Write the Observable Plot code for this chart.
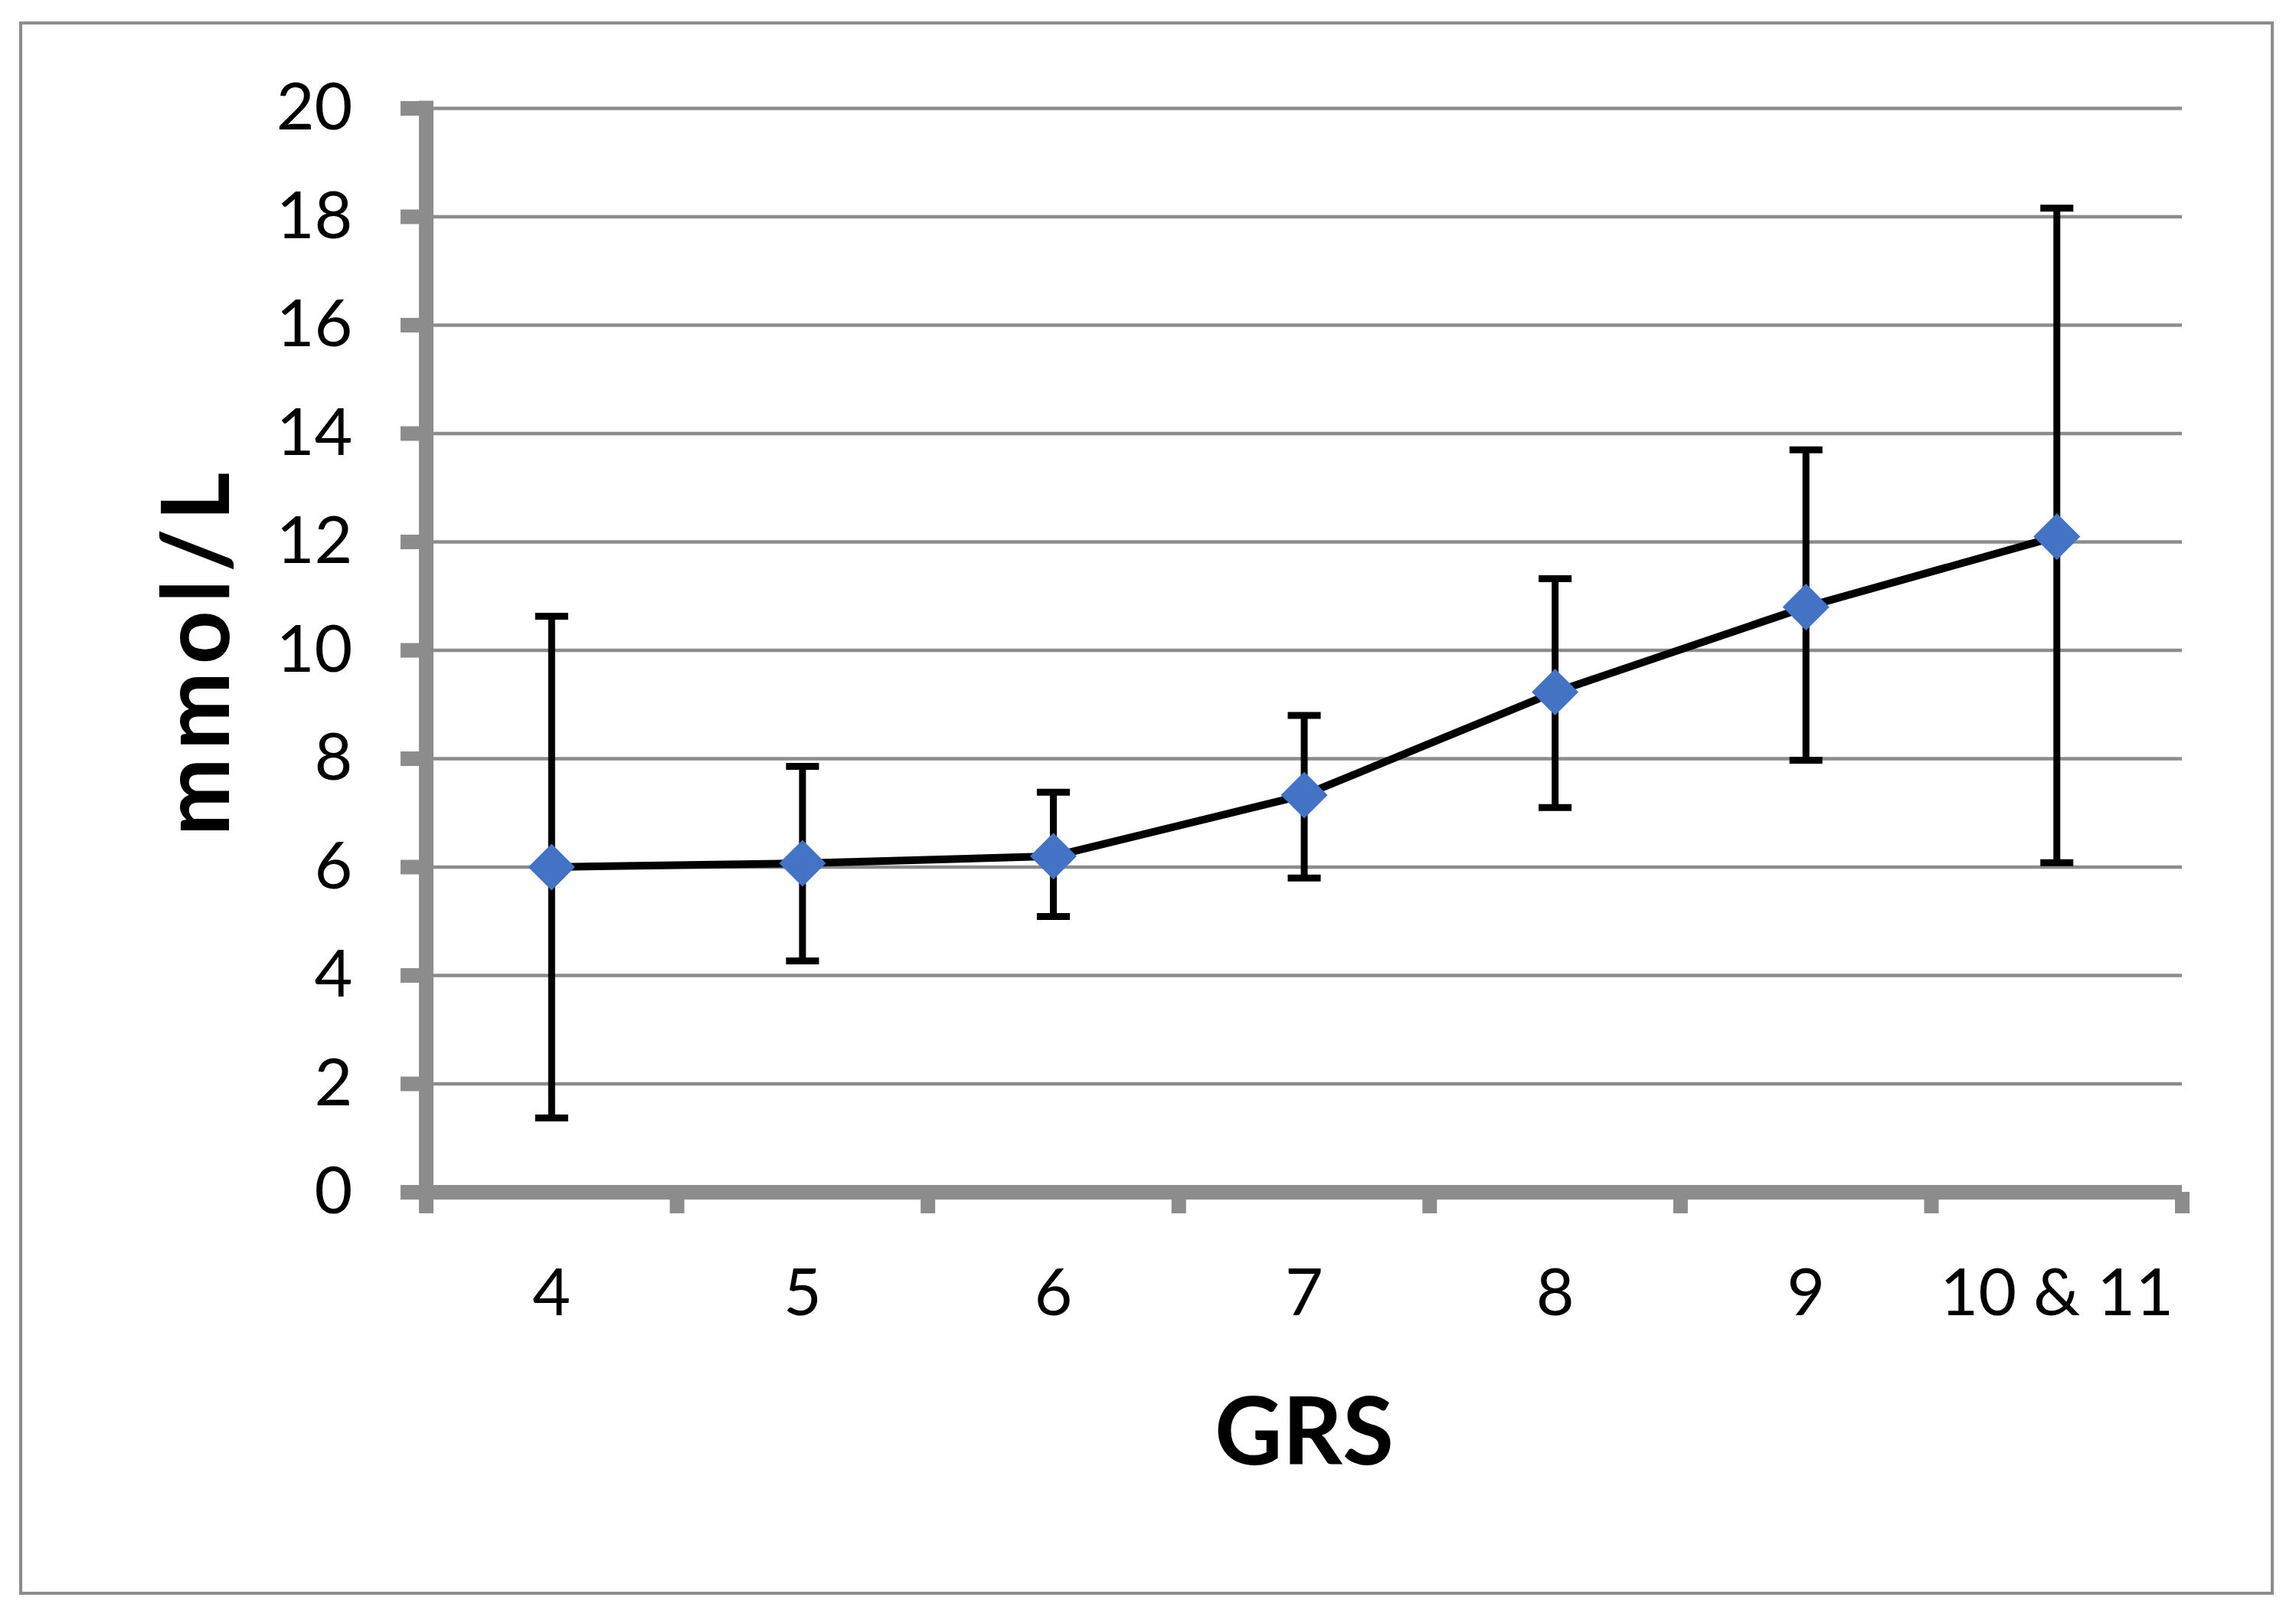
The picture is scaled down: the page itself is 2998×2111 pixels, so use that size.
<!DOCTYPE html>
<html>
<head>
<meta charset="utf-8">
<script src="https://cdn.jsdelivr.net/npm/d3@7"></script>
<script src="https://cdn.jsdelivr.net/npm/@observablehq/plot@0.6"></script>
<style>
  html, body { margin: 0; padding: 0; background: #fff; overflow: hidden; }
  #wrap { position: relative; width: 2998px; height: 2111px; }
  #border { position: absolute; left: 25px; top: 28px; width: 2944px; height: 2054px;
            box-sizing: border-box; border: 4.5px solid #8c8c8c; pointer-events: none; }
  svg { display: block; }
</style>
</head>
<body>
<div id="wrap"><div id="border"></div></div>
<script>
// Categories (GRS groups)
const grs = ["4", "5", "6", "7", "8", "9", "10 & 11"];
// Mean values (mmol/L)
const meanValues = [6.0, 6.07, 6.2, 7.33, 9.23, 10.8, 12.1];
// Error bar ends
const lowerValues = [1.37, 4.27, 5.09, 5.80, 7.10, 7.97, 6.08];
const upperValues = [10.63, 7.86, 7.38, 8.80, 11.32, 13.70, 18.16];
// Y tick labels
const yTicks = [0, 2, 4, 6, 8, 10, 12, 14, 16, 18, 20];

const data = grs.map((g, i) => ({i, g, mean: meanValues[i], lo: lowerValues[i], hi: upperValues[i]}));
const idx = grs.map((g, i) => i);
const bounds = d3.range(grs.length + 1).map(i => i - 0.5);

const gray = "#8c8c8c";
const capSymbol = {
  draw(ctx, size) {
    const w = Math.sqrt(size);
    ctx.moveTo(-w / 2, 0);
    ctx.lineTo(w / 2, 0);
  }
};

const chart = Plot.plot({
  width: 2998,
  height: 2111,
  marginLeft: 556,
  marginRight: 149,
  marginTop: 141,
  marginBottom: 555,
  style: {fontFamily: "Lato, 'Open Sans', sans-serif", fontSize: "86px", color: "black", background: "transparent"},
  x: {domain: [-0.5, grs.length - 0.5], label: null},
  y: {domain: [0, 20], label: null},
  marks: [
    Plot.gridY(yTicks.filter(d => d > 0), {stroke: gray, strokeOpacity: 1, strokeWidth: 4.5}),
    Plot.ruleY([0], {stroke: gray, strokeWidth: 19}),
    Plot.ruleX([-0.5], {stroke: gray, strokeWidth: 19, strokeLinecap: "square"}),
    Plot.axisY(yTicks, {tickSize: 33, tickPadding: 63, stroke: gray, strokeWidth: 19, fontSize: 86, fill: "black", tickFormat: d => String(d), label: null}),
    Plot.axisX(bounds, {tickSize: 28, tickPadding: 0, stroke: gray, strokeWidth: 19, tickFormat: () => "", label: null}),
    Plot.axisX(idx, {tickSize: 0, tickPadding: 99, tickFormat: i => grs[i], fontSize: 86, fill: "black", label: null}),
    Plot.ruleX(data, {x: "i", y1: "lo", y2: "hi", stroke: "black", strokeWidth: 9}),
    Plot.dot(data, {x: "i", y: "hi", symbol: capSymbol, r: 24.3, stroke: "black", strokeWidth: 9, fill: "none"}),
    Plot.dot(data, {x: "i", y: "lo", symbol: capSymbol, r: 24.3, stroke: "black", strokeWidth: 9, fill: "none"}),
    Plot.line(data, {x: "i", y: "mean", stroke: "black", strokeWidth: 10}),
    Plot.dot(data, {x: "i", y: "mean", symbol: "diamond2", r: 27.5, fill: "#4472C4", stroke: "none"}),
    Plot.text(["GRS"], {frameAnchor: "bottom", dy: 316, lineAnchor: "middle", textAnchor: "middle", fontSize: 122, fontWeight: "bold", fill: "black"}),
    Plot.text(["mmol/L"], {frameAnchor: "left", dx: -297, rotate: -90, lineAnchor: "middle", textAnchor: "middle", fontSize: 122, fontWeight: "bold", fill: "black"})
  ]
});
d3.select(chart).selectAll("text").filter(function () { return this.textContent === "mmol/L"; })
  .attr("letter-spacing", "10px");
document.getElementById("wrap").prepend(chart);
</script>
</body>
</html>
